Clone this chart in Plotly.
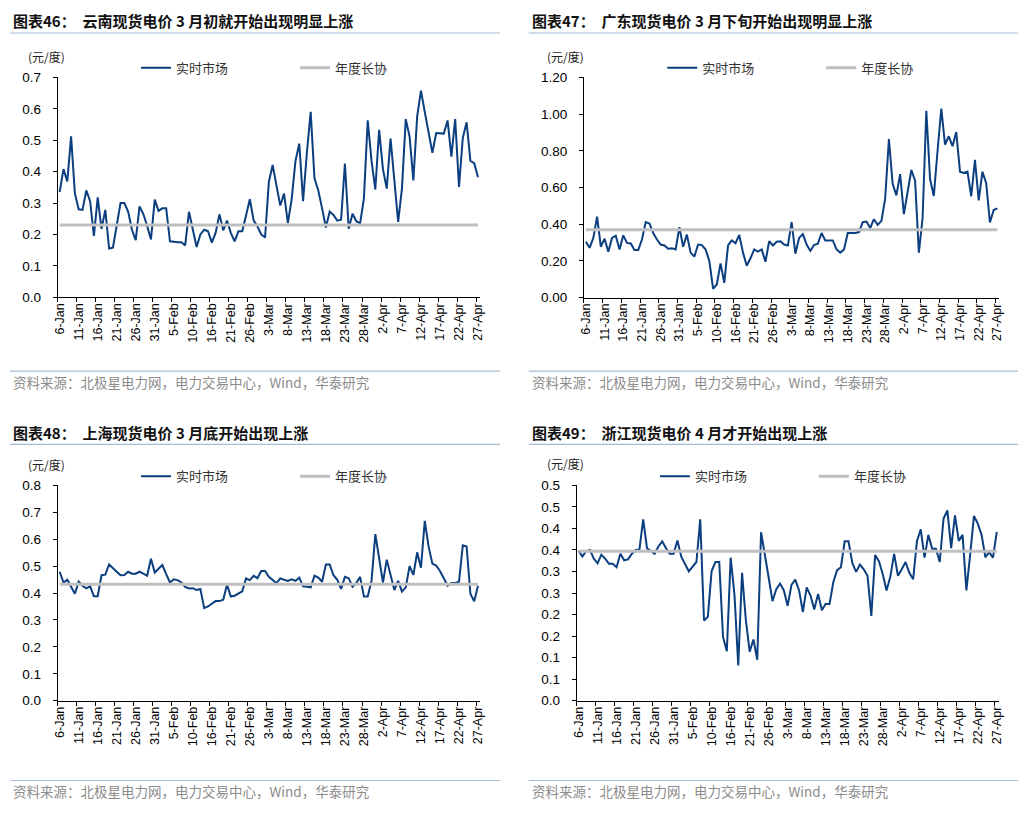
import pandas as pd
import plotly.graph_objects as go

W, H = 1023, 815
BLUE = "#0B3F7F"
GREY = "#BFBFBF"
RULE = "#A7BBD5"
CJK = "Noto Sans CJK SC"
LATIN = "Arial, Liberation Sans, sans-serif"

# daily categories, one day in mid-Feb is absent in the source
DATES = [
    d.strftime("%-d-%b")
    for d in pd.date_range("2023-01-06", "2023-04-27")
    if d != pd.Timestamp("2023-02-13")
]

YUNNAN = [
    0.335, 0.408, 0.369, 0.512, 0.33, 0.28, 0.278, 0.34, 0.306, 0.195, 0.318,
    0.218, 0.278, 0.155, 0.158, 0.23, 0.30, 0.30, 0.273, 0.215, 0.182,
    0.289, 0.265, 0.227, 0.184, 0.311, 0.275, 0.283, 0.283, 0.178, 0.176,
    0.175, 0.175, 0.165, 0.272, 0.21, 0.16, 0.2, 0.215, 0.21, 0.174,
    0.205, 0.264, 0.213, 0.244, 0.205, 0.178, 0.21, 0.21, 0.26, 0.312,
    0.245, 0.225, 0.2, 0.19, 0.367, 0.421, 0.356, 0.292, 0.33, 0.236,
    0.312, 0.434, 0.489, 0.306, 0.46, 0.59, 0.379, 0.34, 0.283, 0.222,
    0.273, 0.262, 0.244, 0.247, 0.426, 0.218, 0.266, 0.242, 0.235, 0.315,
    0.563, 0.434, 0.343, 0.533, 0.408, 0.346, 0.505, 0.377, 0.24, 0.346,
    0.567, 0.512, 0.372, 0.575, 0.658, 0.59, 0.528, 0.46, 0.523, 0.523,
    0.521, 0.563, 0.448, 0.567, 0.351, 0.507, 0.557, 0.434, 0.427, 0.382,
]
GUANGDONG = [
    0.304, 0.271, 0.325, 0.441, 0.277, 0.321, 0.25, 0.325, 0.337, 0.262, 0.339,
    0.298, 0.295, 0.259, 0.259, 0.316, 0.411, 0.404, 0.352, 0.316, 0.289,
    0.284, 0.266, 0.268, 0.262, 0.384, 0.277, 0.343, 0.245, 0.223, 0.289,
    0.286, 0.262, 0.2, 0.048, 0.071, 0.186, 0.08, 0.284, 0.311, 0.296,
    0.341, 0.245, 0.173, 0.214, 0.262, 0.25, 0.262, 0.195, 0.307, 0.284,
    0.304, 0.307, 0.289, 0.284, 0.411, 0.239, 0.325, 0.346, 0.289, 0.254,
    0.286, 0.293, 0.352, 0.311, 0.311, 0.311, 0.262, 0.245, 0.262, 0.352,
    0.352, 0.352, 0.357, 0.411, 0.414, 0.379, 0.427, 0.396, 0.418, 0.539,
    0.864, 0.62, 0.557, 0.673, 0.455, 0.571, 0.695, 0.637, 0.245, 0.432,
    1.018, 0.646, 0.554, 0.80, 1.03, 0.834, 0.879, 0.825, 0.902, 0.686,
    0.679, 0.686, 0.552, 0.75, 0.53, 0.686, 0.623, 0.409, 0.477, 0.486,
]
SHANGHAI = [
    0.479, 0.439, 0.449, 0.421, 0.397, 0.442, 0.427, 0.417, 0.425, 0.388, 0.388,
    0.466, 0.468, 0.506, 0.494, 0.479, 0.466, 0.467, 0.479, 0.472, 0.472,
    0.479, 0.472, 0.464, 0.527, 0.476, 0.49, 0.504, 0.47, 0.439, 0.451,
    0.448, 0.439, 0.423, 0.417, 0.418, 0.411, 0.415, 0.344, 0.35, 0.36,
    0.37, 0.37, 0.375, 0.431, 0.387, 0.39, 0.397, 0.406, 0.454, 0.448,
    0.464, 0.455, 0.482, 0.482, 0.46, 0.448, 0.437, 0.454, 0.449, 0.445,
    0.451, 0.445, 0.457, 0.425, 0.423, 0.421, 0.464, 0.457, 0.442, 0.506,
    0.506, 0.466, 0.449, 0.415, 0.46, 0.455, 0.423, 0.437, 0.46, 0.387,
    0.387, 0.445, 0.619, 0.527, 0.439, 0.524, 0.47, 0.411, 0.445, 0.405,
    0.421, 0.5, 0.467, 0.551, 0.494, 0.668, 0.573, 0.509, 0.502, 0.482,
    0.455, 0.427, 0.437, 0.437, 0.442, 0.577, 0.573, 0.397, 0.369, 0.427,
]
ZHEJIANG = [
    0.348, 0.335, 0.347, 0.35, 0.33, 0.319, 0.339, 0.33, 0.318, 0.318, 0.31,
    0.341, 0.326, 0.328, 0.341, 0.35, 0.351, 0.421, 0.354, 0.347, 0.341,
    0.358, 0.37, 0.354, 0.341, 0.341, 0.372, 0.335, 0.316, 0.3, 0.311,
    0.322, 0.421, 0.186, 0.195, 0.301, 0.322, 0.322, 0.148, 0.115, 0.332,
    0.247, 0.082, 0.297, 0.187, 0.114, 0.142, 0.095, 0.391, 0.343, 0.286,
    0.231, 0.259, 0.272, 0.256, 0.22, 0.269, 0.281, 0.256, 0.206, 0.263,
    0.244, 0.212, 0.248, 0.21, 0.225, 0.224, 0.275, 0.303, 0.31, 0.37,
    0.37, 0.32, 0.299, 0.316, 0.305, 0.29, 0.197, 0.338, 0.324, 0.294,
    0.256, 0.288, 0.341, 0.29, 0.305, 0.322, 0.297, 0.282, 0.37, 0.398,
    0.332, 0.385, 0.353, 0.353, 0.322, 0.423, 0.442, 0.354, 0.43, 0.371,
    0.385, 0.256, 0.339, 0.429, 0.411, 0.385, 0.333, 0.345, 0.332, 0.392,
]

# annual long-term contract price per province (flat line)
CONTRACT = {"YN": 0.23, "GD": 0.37, "SH": 0.433, "ZJ": 0.347}

ZJ_TICKVALS = [0, 0.05, 0.1, 0.15, 0.2, 0.25, 0.3, 0.35, 0.4, 0.45, 0.5]
ZJ_TICKTEXT = ["0.0", "0.1", "0.1", "0.2", "0.2", "0.3", "0.3", "0.4", "0.4", "0.5", "0.5"]

TITLES = [
    "图表46：  云南现货电价 3 月初就开始出现明显上涨",
    "图表47：  广东现货电价 3 月下旬开始出现明显上涨",
    "图表48：  上海现货电价 3 月底开始出现上涨",
    "图表49：  浙江现货电价 4 月才开始出现上涨",
]
SOURCE = "资料来源：北极星电力网，电力交易中心，Wind，华泰研究"
UNIT = "(元/度)"
NAMES = ["实时市场", "年度长协"]

# panel geometry in pixels: plot area (x0..x1, y0..y1), panel span px0..px1,
# title y, unit y, legend y, bottom rule y
PANELS = [
    dict(x0=53.3, x1=479.6, y0=71.7, y1=295.7, px0=5, px1=500, ty=14, uy=50, ly=62, by=371),
    dict(x0=584.7, x1=1004.1, y0=71.7, y1=296.0, px0=529, px1=1023, ty=14, uy=50, ly=62, by=371),
    dict(x0=53.3, x1=479.6, y0=487.3, y1=706.7, px0=5, px1=500, ty=433, uy=466, ly=478, by=788),
    dict(x0=577.3, x1=1003.5, y0=487.3, y1=706.7, px0=529, px1=1023, ty=433, uy=465, ly=478, by=788),
]


def px(x):
    return x / W


def py(y):
    return 1 - y / H


def main():
    fig = go.Figure()
    series = [YUNNAN, GUANGDONG, SHANGHAI, ZHEJIANG]
    contract = [CONTRACT["YN"], CONTRACT["GD"], CONTRACT["SH"], CONTRACT["ZJ"]]
    annotations = []
    shapes = []

    for k, p in enumerate(PANELS):
        n = "" if k == 0 else str(k + 1)
        leg = "legend" + n
        fig.add_trace(
            go.Scatter(
                x=DATES, y=series[k], name=NAMES[0], mode="lines",
                line=dict(color=BLUE, width=2), xaxis="x" + n, yaxis="y" + n,
                legend=leg,
            )
        )
        fig.add_trace(
            go.Scatter(
                x=DATES, y=[contract[k]] * len(DATES), name=NAMES[1], mode="lines",
                line=dict(color=GREY, width=3), xaxis="x" + n, yaxis="y" + n,
                legend=leg,
            )
        )

        xa = dict(
            domain=[px(p["x0"]), px(p["x1"])], anchor="y" + n, type="category",
            range=[-0.5, len(DATES) - 0.5], tickmode="linear", tick0=0, dtick=5,
            tickson="boundaries", tickangle=-90, ticks="outside", ticklen=4,
            tickcolor="black", showline=True, linecolor="black", linewidth=1,
            showgrid=False, zeroline=False,
            tickfont=dict(family=LATIN, size=12.5, color="black"),
        )
        ya = dict(
            domain=[py(p["y1"]), py(p["y0"])], anchor="x" + n, ticks="outside",
            ticklen=4, tickcolor="black", showline=True, linecolor="black",
            linewidth=1, showgrid=False, zeroline=False, ticklabelstandoff=9,
            tickfont=dict(family=LATIN, size=13.5, color="black"),
        )
        if k == 0:
            ya.update(range=[0, 0.7], dtick=0.1, tick0=0, tickformat=".1f")
        elif k == 1:
            ya.update(range=[0, 1.2], dtick=0.2, tick0=0, tickformat=".2f")
        elif k == 2:
            ya.update(range=[0, 0.8], dtick=0.1, tick0=0, tickformat=".1f")
        else:
            ya.update(range=[0, 0.5], tickmode="array", tickvals=ZJ_TICKVALS,
                      ticktext=ZJ_TICKTEXT)
        fig.update_layout({"xaxis" + n: xa, "yaxis" + n: ya})

        fig.update_layout({
            leg: dict(
                orientation="h", x=px(p["x0"] + 79), y=py(p["ly"]),
                xanchor="left", yanchor="middle", bgcolor="rgba(0,0,0,0)",
                font=dict(family=CJK, size=13, color="#333333"),
                entrywidth=114, entrywidthmode="pixels", itemwidth=30,
            )
        })

        annotations += [
            dict(x=px(p["px0"] + 1), y=py(p["ty"]), text="<b>%s</b>" % TITLES[k],
                 font=dict(family=CJK, size=15, color="#111111")),
            dict(x=px(p["px0"] + 16), y=py(p["uy"]), text=UNIT,
                 font=dict(family=CJK, size=12, color="#222222")),
            dict(x=px(p["px0"] + 1), y=py(p["by"] + 11), text=SOURCE,
                 font=dict(family=CJK, size=13.5, color="#8C8C8C")),
        ]
        for yy in (p["ty"] + 12.5, p["by"]):
            shapes.append(
                dict(type="line", xref="paper", yref="paper",
                     x0=px(p["px0"]), x1=px(p["px1"]), y0=py(yy), y1=py(yy),
                     line=dict(color=RULE, width=1.2))
            )

    for a in annotations:
        a.update(xref="paper", yref="paper", xanchor="left", yanchor="middle",
                 showarrow=False)

    fig.update_layout(
        width=W, height=H, margin=dict(l=0, r=0, t=0, b=0),
        paper_bgcolor="white", plot_bgcolor="white",
        showlegend=True, annotations=annotations, shapes=shapes,
    )
    # page body has a default margin; drop it so the figure sits at 0,0
    fig.write_html(
        "out.html",
        config={"displayModeBar": False},
        post_script=(
            "document.documentElement.style.margin='0';"
            "document.documentElement.style.padding='0';"
            "document.body.style.margin='0';document.body.style.padding='0';"
            "document.body.style.overflow='hidden';"
        ),
    )


if __name__ == "__main__":
    main()
